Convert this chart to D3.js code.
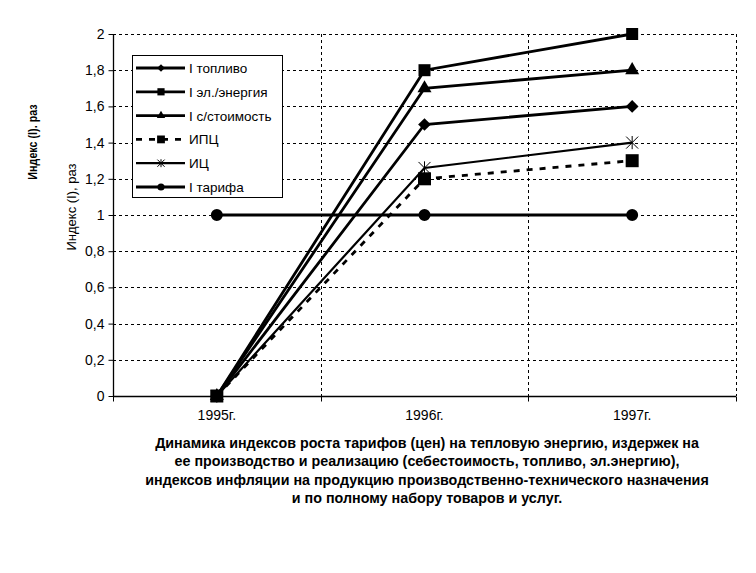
<!DOCTYPE html>
<html>
<head>
<meta charset="utf-8">
<script src="https://cdn.jsdelivr.net/npm/d3@7"></script>
<style>
  body { margin: 0; background: #fff; }
  text { font-family: "Liberation Sans", Arial, sans-serif; fill: #000; }
</style>
</head>
<body>
<svg id="chart" width="756" height="573"></svg>
<script>
// categories and series values
var years = ['1995г.', '1996г.', '1997г.'];
var seriesNames = ['I топливо', 'I эл./энергия', 'I с/стоимость', 'ИПЦ', 'ИЦ', 'I тарифа'];
var fuel = [0, 1.5, 1.6];
var power = [0, 1.8, 2.0];
var cost = [0, 1.7, 1.8];
var cpi = [0, 1.2, 1.3];
var pi = [0, 1.26, 1.4];
var tariff = [1, 1, 1];
var yTicks = [0, 0.2, 0.4, 0.6, 0.8, 1, 1.2, 1.4, 1.6, 1.8, 2];
var titleLines = [
    'Динамика индексов роста тарифов (цен) на тепловую энергию, издержек на',
    'ее производство и реализацию (себестоимость, топливо, эл.энергию),',
    'индексов инфляции на продукцию производственно-технического назначения',
    'и по полному набору товаров и услуг.'
];

var svg = d3.select('#chart');
var plotLeft = 113, plotRight = 736, plotTop = 34, plotBottom = 396;

var x = d3.scaleBand().domain(years).range([plotLeft, plotRight]).padding(0);
var y = d3.scaleLinear().domain([0, 2]).range([plotBottom, plotTop]);

// asterisk marker (X with a vertical stroke)
function asterisk(r) {
    return 'M' + (-r) + ',' + (-r) + 'L' + r + ',' + r +
           'M' + (-r) + ',' + r + 'L' + r + ',' + (-r) +
           'M0,' + (-r * 1.1) + 'L0,' + (r * 1.1);
}

// diamond drawn as a square turned 45 degrees
var squareDiamond = {
    draw: function (context, size) {
        var r = Math.sqrt(size / 2);
        context.moveTo(0, -r);
        context.lineTo(r, 0);
        context.lineTo(0, r);
        context.lineTo(-r, 0);
        context.closePath();
    }
};

var series = [
    { name: seriesNames[0], values: fuel, symbol: squareDiamond, size: 81, dash: null, width: 2.8 },
    { name: seriesNames[1], values: power, symbol: d3.symbolSquare, size: 144, dash: null, width: 2.8 },
    { name: seriesNames[2], values: cost, symbol: d3.symbolTriangle, size: 85, dash: null, width: 2.8 },
    { name: seriesNames[3], values: cpi, symbol: d3.symbolSquare, size: 169, dash: '6,7', width: 2.8 },
    { name: seriesNames[4], values: pi, symbol: null, size: 6, dash: null, width: 2.2 },
    { name: seriesNames[5], values: tariff, symbol: d3.symbolCircle, size: 113, dash: null, width: 2.8 }
];

// grid
var grid = svg.append('g').attr('stroke', '#000').attr('stroke-width', 1).attr('stroke-dasharray', '3,3');
yTicks.filter(function (d) { return d > 0; }).forEach(function (d) {
    grid.append('line').attr('x1', plotLeft).attr('x2', plotRight)
        .attr('y1', Math.round(y(d)) + 0.5).attr('y2', Math.round(y(d)) + 0.5);
});
years.forEach(function (d) {
    var xx = Math.round(x(d) + x.bandwidth()) + 0.5;
    grid.append('line').attr('x1', xx).attr('x2', xx).attr('y1', plotTop).attr('y2', plotBottom);
});

// axes
var yAxis = svg.append('g').attr('transform', 'translate(' + (plotLeft + 0.5) + ',0)')
    .call(d3.axisLeft(y).tickValues(yTicks).tickSize(5).tickPadding(4)
        .tickFormat(function (d) { return String(d).replace('.', ','); }));
yAxis.select('.domain').attr('stroke', '#000').attr('stroke-width', 1.3).attr('d', 'M0,' + plotTop + 'V' + plotBottom);
yAxis.selectAll('text').attr('font-size', 14).style('font-family', '"Liberation Sans", Arial, sans-serif');

var xAxis = svg.append('g').attr('transform', 'translate(0,' + (plotBottom + 0.5) + ')');
xAxis.append('line').attr('x1', plotLeft).attr('x2', plotRight).attr('stroke', '#000').attr('stroke-width', 1.3);
[plotLeft].concat(years.map(function (d) { return x(d) + x.bandwidth(); })).forEach(function (b) {
    xAxis.append('line').attr('x1', Math.round(b) + 0.5).attr('x2', Math.round(b) + 0.5)
        .attr('y1', 0).attr('y2', 5).attr('stroke', '#000');
});
years.forEach(function (d) {
    xAxis.append('text').attr('x', x(d) + x.bandwidth() / 2).attr('y', 23)
        .attr('text-anchor', 'middle').attr('font-size', 14).text(d);
});

// lines and markers
var line = d3.line()
    .x(function (d, i) { return x(years[i]) + x.bandwidth() / 2; })
    .y(function (d) { return y(d); });

function drawMarker(g, s, cx, cy, scale) {
    if (s.symbol) {
        g.append('path').attr('d', d3.symbol().type(s.symbol).size(s.size * scale * scale)())
            .attr('transform', 'translate(' + cx + ',' + cy + ')').attr('fill', '#000');
    } else {
        g.append('path').attr('d', asterisk(s.size * scale))
            .attr('transform', 'translate(' + cx + ',' + cy + ')')
            .attr('stroke', '#000').attr('stroke-width', 1).attr('fill', 'none');
    }
}

var plot = svg.append('g');
series.forEach(function (s) {
    plot.append('path').datum(s.values).attr('d', line)
        .attr('fill', 'none').attr('stroke', '#000').attr('stroke-width', s.width)
        .attr('stroke-dasharray', s.dash);
});
// asterisks first so the squares end up on top at the shared start point
[4, 0, 1, 2, 5, 3].forEach(function (k) {
    var s = series[k];
    s.values.forEach(function (v, i) {
        drawMarker(plot, s, x(years[i]) + x.bandwidth() / 2, y(v), 1);
    });
});

// legend
var legend = svg.append('g');
legend.append('rect').attr('x', 132.5).attr('y', 55.5).attr('width', 150).attr('height', 142)
    .attr('fill', '#fff').attr('stroke', '#000').attr('stroke-width', 1);
series.forEach(function (s, i) {
    var ly = 68 + i * 23.8;
    legend.append('line').attr('x1', 136).attr('x2', 185).attr('y1', ly).attr('y2', ly)
        .attr('stroke', '#000').attr('stroke-width', s.width).attr('stroke-dasharray', s.dash);
    drawMarker(legend, s, 161, ly, 0.6);
    legend.append('text').attr('x', 189).attr('y', ly + 5).attr('font-size', 13.5).text(s.name);
});

// axis titles
svg.append('text').attr('transform', 'translate(76,207) rotate(-90)')
    .attr('text-anchor', 'middle').attr('font-size', 13).text('Индекс (I), раз');
svg.append('text').attr('transform', 'translate(37,142) rotate(-90) scale(0.86,1)')
    .attr('text-anchor', 'middle').attr('font-size', 12.5).attr('font-weight', 'bold')
    .text('Индекс (I). раз');

// caption
titleLines.forEach(function (t, i) {
    svg.append('text').attr('x', 427).attr('y', 448 + i * 18.4)
        .attr('text-anchor', 'middle').attr('font-size', 14.3).attr('font-weight', 'bold').text(t);
});
</script>
</body>
</html>
